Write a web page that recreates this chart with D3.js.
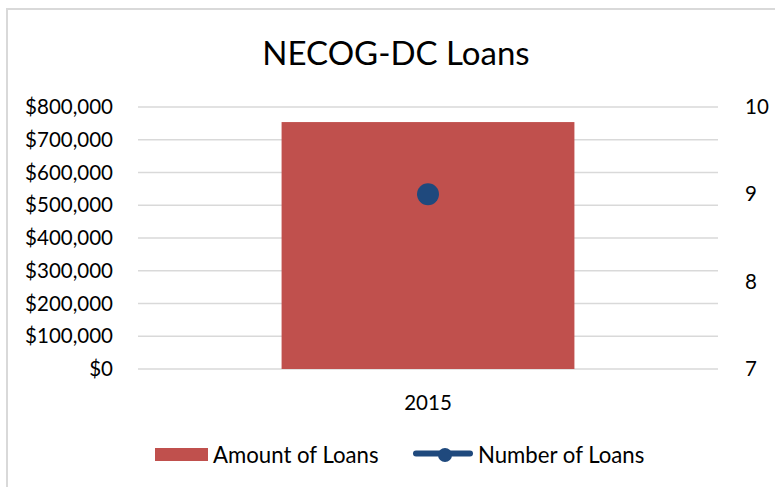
<!DOCTYPE html>
<html>
<head>
<meta charset="utf-8">
<script src="https://cdn.jsdelivr.net/npm/d3@7"></script>
<style>
    body { margin: 0; background: #fff; }
    #chart { width: 775px; height: 487px; }
    text { font-family: Lato, "Open Sans", sans-serif; fill: #000; }
</style>
</head>
<body>
<div id="chart"></div>
<script>
// chart data
const years = ["2015"];
const loanAmounts = [754000];
const loanCounts = [9];
const amountTicks = [0, 100000, 200000, 300000, 400000, 500000, 600000, 700000, 800000];
const countTicks = [7, 8, 9, 10];
const seriesNames = ["Amount of Loans", "Number of Loans"];

function plotLoansChart(elementId) {
    d3.select(`#${elementId}`).selectAll("*").remove();

    const width = 775;
    const height = 487;
    const plot = { left: 138, right: 718, top: 107, bottom: 369 };

    const svg = d3.select(`#${elementId}`)
        .append("svg")
        .attr("width", width)
        .attr("height", height);

    // chart area border (cut off at right and bottom like the original)
    svg.append("path")
        .attr("d", `M7,${height + 5} V9 H${width + 5}`)
        .attr("fill", "none")
        .attr("stroke", "#d9d9d9")
        .attr("stroke-width", 2);

    svg.append("text")
        .attr("x", 396)
        .attr("y", 65)
        .attr("text-anchor", "middle")
        .style("font-size", "33px")
        .text("NECOG-DC Loans");

    const x = d3.scaleBand()
        .domain(years)
        .range([plot.left, plot.right])
        .padding(0.329);

    const yAmount = d3.scaleLinear()
        .domain([0, 800000])
        .range([plot.bottom, plot.top]);

    const yCount = d3.scaleLinear()
        .domain([7, 10])
        .range([plot.bottom, plot.top]);

    // gridlines
    svg.append("g")
        .selectAll("line")
        .data(amountTicks)
        .enter().append("line")
        .attr("x1", plot.left)
        .attr("x2", plot.right)
        .attr("y1", d => yAmount(d))
        .attr("y2", d => yAmount(d))
        .attr("stroke", "#d9d9d9")
        .attr("stroke-width", 1.3);

    // left axis
    const leftAxis = svg.append("g")
        .attr("transform", `translate(${plot.left - 25},0)`)
        .call(d3.axisLeft(yAmount).tickValues(amountTicks).tickFormat(d3.format("$,.0f")).tickSize(0).tickPadding(0));
    leftAxis.select(".domain").remove();
    leftAxis.selectAll("text")
        .style("font-size", "20.5px")
        .style("font-family", "Lato, sans-serif")
        .attr("fill", "#000");

    // right axis
    const rightAxis = svg.append("g")
        .attr("transform", `translate(${plot.right + 27},0)`)
        .call(d3.axisRight(yCount).tickValues(countTicks).tickFormat(d3.format("d")).tickSize(0).tickPadding(0));
    rightAxis.select(".domain").remove();
    rightAxis.selectAll("text")
        .style("font-size", "20.5px")
        .style("font-family", "Lato, sans-serif")
        .attr("fill", "#000");

    // bottom axis
    const bottomAxis = svg.append("g")
        .attr("transform", `translate(0,${plot.bottom + 26})`)
        .call(d3.axisBottom(x).tickSize(0).tickPadding(0));
    bottomAxis.select(".domain").remove();
    bottomAxis.selectAll("text")
        .style("font-size", "20.5px")
        .style("font-family", "Lato, sans-serif")
        .attr("fill", "#000");

    // bars
    svg.selectAll(".bar")
        .data(loanAmounts)
        .enter().append("rect")
        .attr("class", "bar")
        .attr("x", (d, i) => x(years[i]))
        .attr("y", d => yAmount(d))
        .attr("width", x.bandwidth())
        .attr("height", d => yAmount(0) - yAmount(d))
        .attr("fill", "#c0504d");

    // number of loans (line series with markers)
    const line = d3.line()
        .x((d, i) => x(years[i]) + x.bandwidth() / 2)
        .y(d => yCount(d));

    svg.append("path")
        .datum(loanCounts)
        .attr("d", line)
        .attr("fill", "none")
        .attr("stroke", "#1f497d")
        .attr("stroke-width", 6)
        .attr("stroke-linecap", "round");

    svg.selectAll(".dot")
        .data(loanCounts)
        .enter().append("circle")
        .attr("class", "dot")
        .attr("cx", (d, i) => x(years[i]) + x.bandwidth() / 2)
        .attr("cy", d => yCount(d))
        .attr("r", 11)
        .attr("fill", "#1f497d");

    // legend
    const legend = svg.append("g");
    legend.append("rect")
        .attr("x", 155)
        .attr("y", 448)
        .attr("width", 53)
        .attr("height", 13)
        .attr("fill", "#c0504d");
    legend.append("text")
        .attr("x", 213)
        .attr("y", 463)
        .style("font-size", "22.2px")
        .text(seriesNames[0]);

    legend.append("line")
        .attr("x1", 416)
        .attr("x2", 470)
        .attr("y1", 453.5)
        .attr("y2", 453.5)
        .attr("stroke", "#1f497d")
        .attr("stroke-width", 6)
        .attr("stroke-linecap", "round");
    legend.append("circle")
        .attr("cx", 445)
        .attr("cy", 455)
        .attr("r", 7)
        .attr("fill", "#1f497d");
    legend.append("text")
        .attr("x", 478)
        .attr("y", 463)
        .style("font-size", "22.2px")
        .text(seriesNames[1]);
}

plotLoansChart("chart");
</script>
</body>
</html>
